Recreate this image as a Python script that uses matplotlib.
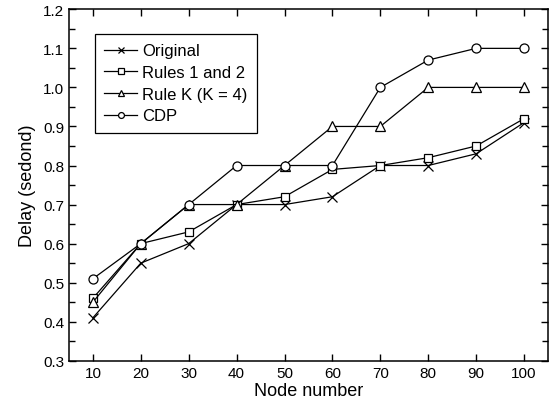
import matplotlib
matplotlib.use('Agg')
import matplotlib.pyplot as plt
from matplotlib.ticker import MultipleLocator

plt.rcParams['font.family'] = ['Liberation Sans', 'DejaVu Sans']

# data
nodes = [10, 20, 30, 40, 50, 60, 70, 80, 90, 100]
original = [0.41, 0.55, 0.60, 0.70, 0.70, 0.72, 0.80, 0.80, 0.83, 0.91]
rules12 = [0.46, 0.60, 0.63, 0.70, 0.72, 0.79, 0.80, 0.82, 0.85, 0.92]
rule_k = [0.45, 0.60, 0.70, 0.70, 0.80, 0.90, 0.90, 1.00, 1.00, 1.00]
cdp = [0.51, 0.60, 0.70, 0.80, 0.80, 0.80, 1.00, 1.07, 1.10, 1.10]

fig = plt.figure(figsize=(5.56, 4.06), dpi=100)
ax = fig.add_axes([0.124, 0.109, 0.8616, 0.8656])

style = dict(color='black', lw=0.9, mfc='white', mec='black', mew=0.9)
ax.plot(nodes, original, marker='x', ms=7.5, label='Original', **style)
ax.plot(nodes, rules12, marker='s', ms=6, label='Rules 1 and 2', **style)
ax.plot(nodes, rule_k, marker='^', ms=7, label='Rule K (K = 4)', **style)
ax.plot(nodes, cdp, marker='o', ms=6.5, label='CDP', **style)

ax.set_xlim(5, 105)
ax.set_ylim(0.3, 1.2)
ax.set_xticks(nodes)
ax.yaxis.set_major_locator(MultipleLocator(0.1))
ax.yaxis.set_minor_locator(MultipleLocator(0.05))
ax.yaxis.set_major_formatter(matplotlib.ticker.FormatStrFormatter('%.1f'))
ax.tick_params(which='both', direction='in', top=True, right=True, labelsize=11, width=1)
ax.tick_params(which='major', length=5)
ax.tick_params(which='minor', length=4)
for s in ax.spines.values():
    s.set_linewidth(1.1)

ax.set_xlabel('Node number', fontsize=13, labelpad=2)
ax.set_ylabel('Delay (sedond)', fontsize=13, labelpad=5)

leg = ax.legend(loc='upper left', bbox_to_anchor=(0.054, 0.929), borderaxespad=0,
                fontsize=12, markerscale=0.65, handlelength=2.0, handletextpad=0.3,
                labelspacing=0.4, borderpad=0.55, fancybox=False, framealpha=1,
                edgecolor='black')
leg.get_frame().set_linewidth(0.9)

fig.savefig('out.png')
